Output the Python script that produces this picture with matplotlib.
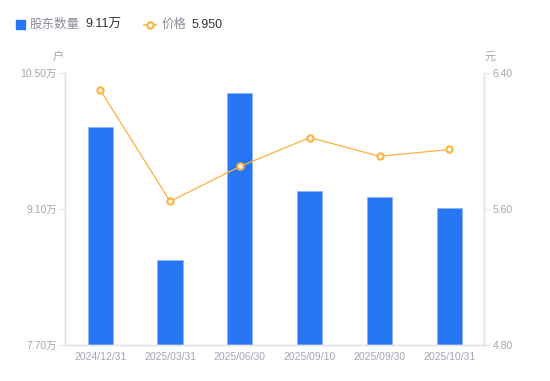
import matplotlib
matplotlib.use("Agg")
import matplotlib.pyplot as plt
from matplotlib.lines import Line2D

plt.rcParams['font.family'] = ['Liberation Sans', 'Noto Sans CJK SC', 'DejaVu Sans']

dates = ["2024/12/31", "2025/03/31", "2025/06/30", "2025/09/10", "2025/09/30", "2025/10/31"]
holders = [9.94, 8.57, 10.29, 9.29, 9.22, 9.11]   # 万户
price = [6.30, 5.645, 5.85, 6.02, 5.91, 5.95]     # 元

left_ticks = [7.70, 9.10, 10.50]
right_ticks = [4.80, 5.60, 6.40]

bar_color = "#2777F5"
line_color = "#FDB23C"
grid_color = "#E3E4E8"
label_color = "#A3A5B3"

fig = plt.figure(figsize=(5.5, 3.81), dpi=100)
ax = fig.add_axes([65.3 / 550, 1 - 345 / 381, 419 / 550, 272 / 381])
ax2 = ax.twinx()

x = range(len(dates))
ax.bar(x, holders, width=0.36, color=bar_color, edgecolor="#8FB6F8", linewidth=0.6, zorder=2)
ax.set_ylim(left_ticks[0], left_ticks[-1])
ax.set_xlim(-0.5, len(dates) - 0.5)
ax.set_yticks(left_ticks)
ax.set_yticklabels([f"{v:.2f}万" for v in left_ticks])
ax.set_xticks(list(x))
ax.set_xticklabels(dates)

ax2.plot(x, price, color=line_color, linewidth=0.9, marker="o", markersize=4.5,
         markerfacecolor="white", markeredgecolor=line_color, markeredgewidth=1.5, zorder=3)
ax2.set_ylim(right_ticks[0], right_ticks[-1])
ax2.set_yticks(right_ticks)
ax2.set_yticklabels([f"{v:.2f}" for v in right_ticks])

for a in (ax, ax2):
    for s in a.spines.values():
        s.set_color(grid_color)
        s.set_linewidth(1.0)
    a.spines['top'].set_visible(False)
    a.tick_params(axis='y', colors=grid_color, labelcolor=label_color, labelsize=7.5,
                  length=4, width=0.8, pad=2)
ax.tick_params(axis='x', length=0, labelcolor=label_color, labelsize=7.5, pad=5)

fig.text(58 / 550, 1 - 57 / 381, "户", color=label_color, fontsize=8, ha="center", va="center")
fig.text(490 / 550, 1 - 57 / 381, "元", color=label_color, fontsize=8, ha="center", va="center")

# legend row
fig.patches.append(plt.Rectangle((16 / 550, 1 - 29 / 381), 9 / 550, 9 / 381,
                                 transform=fig.transFigure, color=bar_color, figure=fig))
fig.text(30 / 550, 1 - 24.5 / 381, "股东数量", color="#8A8D99", fontsize=9, va="center")
fig.text(85 / 550, 1 - 24.5 / 381, f"{holders[-1]:.2f}万", color="#333333", fontsize=9, va="center")
fig.lines.append(Line2D([144 / 550, 156 / 550], [1 - 24.5 / 381] * 2, transform=fig.transFigure,
                        color=line_color, linewidth=1.2))
fig.lines.append(Line2D([150 / 550], [1 - 24.5 / 381], transform=fig.transFigure,
                        color=line_color, marker="o", markersize=4.5, markerfacecolor="white",
                        markeredgewidth=1.5, linestyle="none"))
fig.text(162 / 550, 1 - 24.5 / 381, "价格", color="#8A8D99", fontsize=9, va="center")
fig.text(192 / 550, 1 - 24.5 / 381, f"{price[-1]:.3f}", color="#333333", fontsize=9, va="center")

fig.savefig("out.png", dpi=100)
